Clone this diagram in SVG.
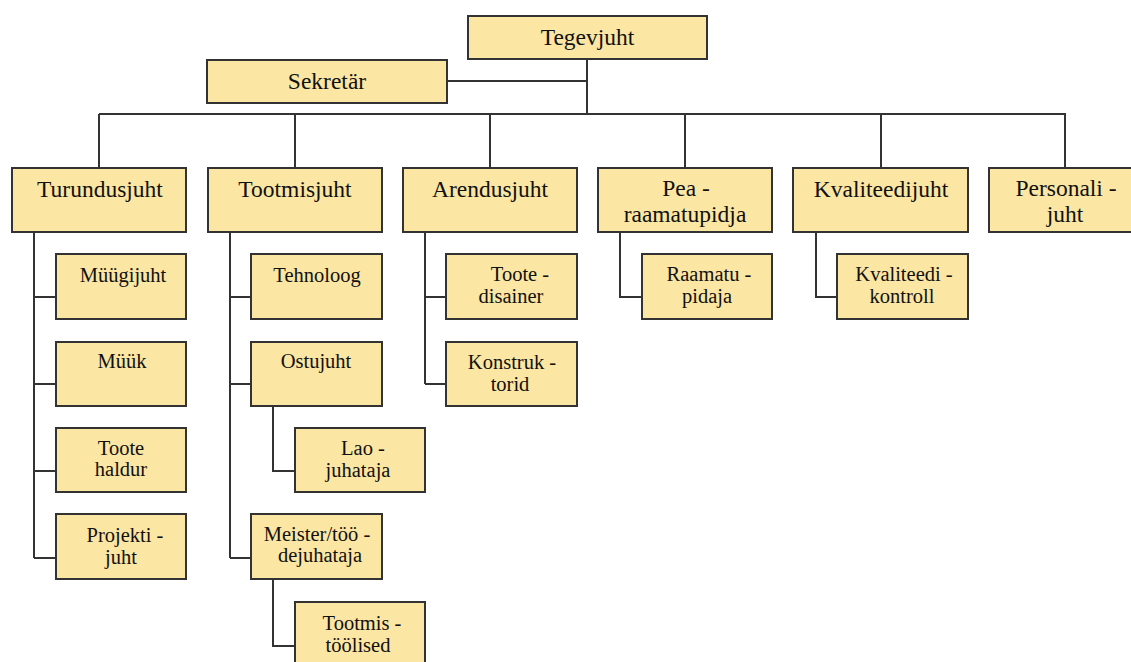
<svg xmlns="http://www.w3.org/2000/svg" width="1131" height="662" viewBox="0 0 1131 662">
<style>
.box{fill:#fbe6a3;stroke:#333;stroke-width:2}
.ln{fill:none;stroke:#333;stroke-width:2}
text{fill:#111;text-anchor:middle}
.t1{font-size:23.5px}
.t2{font-size:20.5px}
</style>
<rect width="1131" height="662" fill="#fff"/>
<g id="connectors">
<path class="ln" d="M587 59V114M447 81H587M99 114H1065V168M99 114V168M295 114V168M490 114V168M685 114V168M881 114V168"/>
<path class="ln" d="M34 232V558M34 297H56M34 384H56M34 471H56M34 558H56"/>
<path class="ln" d="M230 232V558M230 297H251M230 384H251M230 558H251"/>
<path class="ln" d="M273 406V471H295M273 579V646H295"/>
<path class="ln" d="M425 232V384M425 297H446M425 384H446"/>
<path class="ln" d="M620 232V297H642"/>
<path class="ln" d="M816 232V297H837"/>
</g>
<g font-family="Liberation Serif, DejaVu Serif, serif">
<g id="tegevjuht"><rect class="box" x="468" y="16" width="239" height="43"/><text class="t1" x="587.5" y="45">Tegevjuht</text></g>
<g id="sekretar"><rect class="box" x="207" y="60" width="240" height="43"/><text class="t1" x="327" y="89">Sekretär</text></g>
<g id="turundusjuht"><rect class="box" x="12" y="168" width="174" height="64"/><text class="t1" x="100" y="197">Turundusjuht</text></g>
<g id="tootmisjuht"><rect class="box" x="208" y="168" width="174" height="64"/><text class="t1" x="295" y="197">Tootmisjuht</text></g>
<g id="arendusjuht"><rect class="box" x="403" y="168" width="174" height="64"/><text class="t1" x="490" y="197">Arendusjuht</text></g>
<g id="pearaamatupidja"><rect class="box" x="598" y="168" width="174" height="64"/><text class="t1" x="686" y="196">Pea -</text><text class="t1" x="685" y="222">raamatupidja</text></g>
<g id="kvaliteedijuht"><rect class="box" x="793" y="168" width="175" height="64"/><text class="t1" x="881" y="197">Kvaliteedijuht</text></g>
<g id="personalijuht"><rect class="box" x="989" y="168" width="174" height="64"/><text class="t1" x="1066" y="196">Personali -</text><text class="t1" x="1065" y="222">juht</text></g>
<g id="muugijuht"><rect class="box" x="56" y="254" width="130" height="65"/><text class="t2" x="123" y="282">Müügijuht</text></g>
<g id="muuk"><rect class="box" x="56" y="342" width="130" height="64"/><text class="t2" x="122" y="368">Müük</text></g>
<g id="tootehaldur"><rect class="box" x="56" y="428" width="130" height="64"/><text class="t2" x="121" y="455">Toote</text><text class="t2" x="121" y="476">haldur</text></g>
<g id="projektijuht"><rect class="box" x="56" y="514" width="130" height="65"/><text class="t2" x="125" y="542">Projekti -</text><text class="t2" x="121" y="564">juht</text></g>
<g id="tehnoloog"><rect class="box" x="251" y="254" width="131" height="65"/><text class="t2" x="317" y="282">Tehnoloog</text></g>
<g id="ostujuht"><rect class="box" x="251" y="342" width="131" height="64"/><text class="t2" x="316" y="368">Ostujuht</text></g>
<g id="laojuhataja"><rect class="box" x="295" y="428" width="130" height="64"/><text class="t2" x="363" y="455">Lao -</text><text class="t2" x="358" y="477">juhataja</text></g>
<g id="meister"><rect class="box" x="251" y="514" width="131" height="65"/><text class="t2" x="317" y="541">Meister/töö -</text><text class="t2" x="320" y="562">dejuhataja</text></g>
<g id="tootmistoolised"><rect class="box" x="295" y="602" width="130" height="66"/><text class="t2" x="362" y="630">Tootmis -</text><text class="t2" x="358" y="652">töölised</text></g>
<g id="tootedisainer"><rect class="box" x="446" y="254" width="131" height="65"/><text class="t2" x="520" y="281">Toote -</text><text class="t2" x="511" y="303">disainer</text></g>
<g id="konstruktorid"><rect class="box" x="446" y="342" width="131" height="64"/><text class="t2" x="512" y="369">Konstruk -</text><text class="t2" x="510" y="391">torid</text></g>
<g id="raamatupidaja"><rect class="box" x="642" y="254" width="130" height="65"/><text class="t2" x="709" y="281">Raamatu -</text><text class="t2" x="707" y="303">pidaja</text></g>
<g id="kvaliteedikontroll"><rect class="box" x="837" y="254" width="131" height="65"/><text class="t2" x="904" y="281">Kvaliteedi -</text><text class="t2" x="902" y="303">kontroll</text></g>
</g>
</svg>
